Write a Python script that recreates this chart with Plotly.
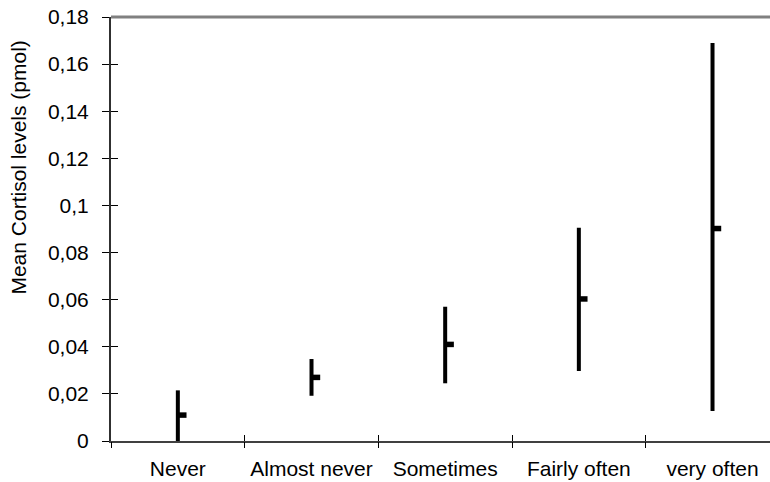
import plotly.graph_objects as go

categories = ["Never", "Almost never", "Sometimes", "Fairly often", "very often"]
high = [0.0215, 0.0348, 0.0570, 0.0905, 0.1690]
low = [0.0, 0.0192, 0.0245, 0.0297, 0.0127]
mean = [0.0110, 0.0270, 0.0410, 0.0603, 0.0902]
y_ticks = [0, 0.02, 0.04, 0.06, 0.08, 0.10, 0.12, 0.14, 0.16, 0.18]
y_ticktext = ["0", "0,02", "0,04", "0,06", "0,08", "0,1", "0,12", "0,14", "0,16", "0,18"]

xpos = list(range(len(categories)))
span = [h - l for h, l in zip(high, low)]

FONT = "Liberation Sans, Arial, sans-serif"
FS = 21

fig = go.Figure()
# high-low lines
fig.add_trace(go.Scatter(
    x=xpos, y=low, mode="markers", marker=dict(size=0.1, color="black"),
    error_y=dict(type="data", symmetric=False, array=span, arrayminus=[0] * len(span),
                 width=0, thickness=4, color="black"),
    hoverinfo="skip", showlegend=False))
# mean (close) ticks to the right
fig.add_trace(go.Scatter(
    x=xpos, y=mean, mode="markers", marker=dict(size=0.1, color="black"),
    error_x=dict(type="data", symmetric=False, array=[0.065] * len(mean), arrayminus=[0] * len(mean),
                 width=0, thickness=5.5, color="black"),
    hoverinfo="skip", showlegend=False))

xr = [-0.5, 4.43]
fig.update_layout(
    width=770, height=482,
    margin=dict(l=111, r=0, t=17, b=41),
    paper_bgcolor="white", plot_bgcolor="white",
    font=dict(family=FONT, size=FS, color="black"),
    showlegend=False,
    xaxis=dict(range=xr, tickvals=xpos, ticktext=categories, ticks="", showgrid=False,
               zeroline=False, showline=True, linecolor="#404040", linewidth=2,
               tickfont=dict(size=FS), ticklabelstandoff=8),
    xaxis2=dict(range=xr, overlaying="x", anchor="y", side="bottom",
                tickvals=[-0.5, 0.5, 1.5, 2.5, 3.5], ticks="outside", ticklen=6, tickwidth=1,
                tickcolor="black", showticklabels=False, showgrid=False, zeroline=False),
    xaxis3=dict(range=xr, overlaying="x", anchor="y", side="bottom",
                tickvals=[0.5, 1.5, 2.5, 3.5], ticks="inside", ticklen=6, tickwidth=1,
                tickcolor="black", showticklabels=False, showgrid=False, zeroline=False),
    yaxis=dict(range=[0, 0.18], tickvals=y_ticks, ticktext=y_ticktext, ticks="outside",
               ticklen=7, tickwidth=1, tickcolor="black", showgrid=False, zeroline=False,
               showline=True, linecolor="#303030", linewidth=2, tickfont=dict(size=FS),
               ticklabelstandoff=9),
    yaxis2=dict(range=[0, 0.18], overlaying="y", anchor="x", side="left", tickvals=y_ticks,
                ticks="inside", ticklen=7, tickwidth=1, tickcolor="black",
                showticklabels=False, showgrid=False, zeroline=False),
)
# dummy traces to activate overlay axes
fig.add_trace(go.Scatter(x=[None], y=[None], xaxis="x2", yaxis="y", showlegend=False, hoverinfo="skip"))
fig.add_trace(go.Scatter(x=[None], y=[None], xaxis="x3", yaxis="y", showlegend=False, hoverinfo="skip"))
fig.add_trace(go.Scatter(x=[None], y=[None], xaxis="x", yaxis="y2", showlegend=False, hoverinfo="skip"))

# top border of plot area
fig.add_shape(type="line", xref="paper", yref="paper", x0=0, x1=1, y0=1, y1=1,
              line=dict(color="#808080", width=3))

fig.add_annotation(text="Mean Cortisol levels (pmol)", textangle=-90, xref="paper", yref="paper",
                   x=-0.1404, y=0.646, xanchor="center", yanchor="middle", showarrow=False,
                   font=dict(family=FONT, size=FS, color="black"))

fig.write_html("out.html")
